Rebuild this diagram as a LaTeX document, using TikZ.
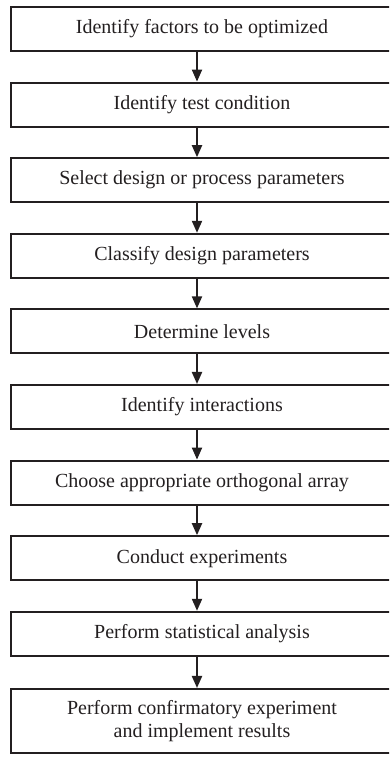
\documentclass[tikz,border=0pt]{standalone}
\usepackage{fontspec}
\setmainfont{Liberation Serif}
\usetikzlibrary{arrows.meta}
\definecolor{ink}{HTML}{231F20}
\begin{document}
\begin{tikzpicture}[x=1pt,y=1pt,
  stepbox/.style={draw=ink, line width=2pt, minimum width=383pt, minimum height=44pt,
    inner sep=0pt, text=ink, font=\fontsize{20}{23}\selectfont, align=center},
  arr/.style={draw=ink, line width=2pt, -{Triangle[width=10pt,length=12pt]}}]
\useasboundingbox (0,0) rectangle (389,758);
\begin{scope}
\clip (0,0) rectangle (389,758);
\node[stepbox] (b0) at (202,758-29) {Identify factors to be optimized};
\node[stepbox] (b1) at (202,758-104.6) {Identify test condition};
\node[stepbox] (b2) at (202,758-180.2) {Select design or process parameters};
\node[stepbox] (b3) at (202,758-255.8) {Classify design parameters};
\node[stepbox] (b4) at (202,758-331.4) {Determine levels};
\node[stepbox] (b5) at (202,758-407) {Identify interactions};
\node[stepbox] (b6) at (202,758-482.6) {Choose appropriate orthogonal array};
\node[stepbox] (b7) at (202,758-558.2) {Conduct experiments};
\node[stepbox] (b8) at (202,758-633.8) {Perform statistical analysis};
\node[stepbox, minimum height=64pt] (b9) at (202,758-721) {Perform confirmatory experiment\\and implement results};
\foreach \a/\b in {b0/b1,b1/b2,b2/b3,b3/b4,b4/b5,b5/b6,b6/b7,b7/b8,b8/b9}
  \draw[arr] ([xshift=-5pt]\a.south) -- ([xshift=-5pt]\b.north);
\end{scope}
\end{tikzpicture}
\end{document}
